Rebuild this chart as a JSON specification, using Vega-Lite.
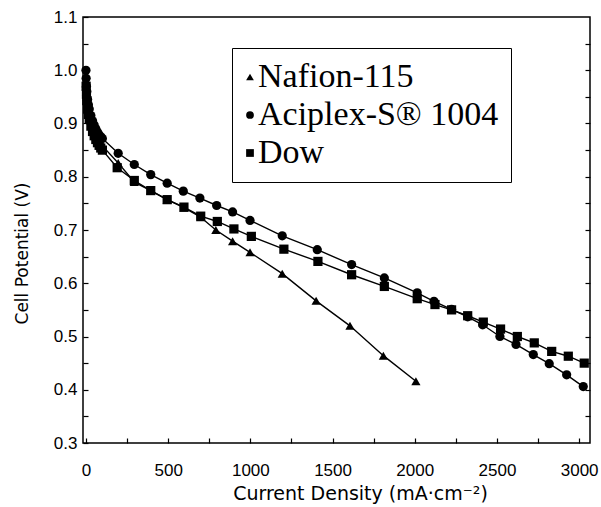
{
  "$schema": "https://vega.github.io/schema/vega-lite/v6.json",
  "autosize": {"type": "none"},
  "padding": {"left": 83, "top": 17, "right": 11, "bottom": 64},
  "width": 507,
  "height": 426,
  "background": "white",
  "config": {
    "view": {"stroke": "black", "strokeWidth": 1.5},
    "axis": {
      "grid": false,
      "domain": false,
      "tickColor": "black",
      "tickSize": -5,
      "tickWidth": 1.2,
      "labelColor": "black",
      "labelFont": "Liberation Sans",
      "labelFontSize": 17,
      "titleFont": "DejaVu Sans",
      "titleFontSize": 17,
      "titleFontWeight": "normal",
      "titleColor": "black"
    }
  },
  "data": {
    "values": [
      {"s": "Aciplex-S® 1004", "x": 0, "v": 1.0},
      {"s": "Aciplex-S® 1004", "x": 1, "v": 0.985},
      {"s": "Aciplex-S® 1004", "x": 3, "v": 0.97},
      {"s": "Aciplex-S® 1004", "x": 5, "v": 0.96},
      {"s": "Aciplex-S® 1004", "x": 10, "v": 0.945},
      {"s": "Aciplex-S® 1004", "x": 15, "v": 0.935},
      {"s": "Aciplex-S® 1004", "x": 20, "v": 0.927},
      {"s": "Aciplex-S® 1004", "x": 30, "v": 0.915},
      {"s": "Aciplex-S® 1004", "x": 40, "v": 0.905},
      {"s": "Aciplex-S® 1004", "x": 50, "v": 0.897},
      {"s": "Aciplex-S® 1004", "x": 60, "v": 0.89},
      {"s": "Aciplex-S® 1004", "x": 70, "v": 0.884},
      {"s": "Aciplex-S® 1004", "x": 80, "v": 0.879},
      {"s": "Aciplex-S® 1004", "x": 90, "v": 0.875},
      {"s": "Aciplex-S® 1004", "x": 100, "v": 0.872},
      {"s": "Aciplex-S® 1004", "x": 196, "v": 0.844},
      {"s": "Aciplex-S® 1004", "x": 294, "v": 0.823},
      {"s": "Aciplex-S® 1004", "x": 394, "v": 0.804},
      {"s": "Aciplex-S® 1004", "x": 494, "v": 0.788},
      {"s": "Aciplex-S® 1004", "x": 592, "v": 0.773},
      {"s": "Aciplex-S® 1004", "x": 693, "v": 0.76},
      {"s": "Aciplex-S® 1004", "x": 795, "v": 0.746},
      {"s": "Aciplex-S® 1004", "x": 892, "v": 0.734},
      {"s": "Aciplex-S® 1004", "x": 998, "v": 0.718},
      {"s": "Aciplex-S® 1004", "x": 1194, "v": 0.689},
      {"s": "Aciplex-S® 1004", "x": 1407, "v": 0.663},
      {"s": "Aciplex-S® 1004", "x": 1616, "v": 0.635},
      {"s": "Aciplex-S® 1004", "x": 1815, "v": 0.61},
      {"s": "Aciplex-S® 1004", "x": 2015, "v": 0.582},
      {"s": "Aciplex-S® 1004", "x": 2117, "v": 0.566},
      {"s": "Aciplex-S® 1004", "x": 2224, "v": 0.551},
      {"s": "Aciplex-S® 1004", "x": 2322, "v": 0.537},
      {"s": "Aciplex-S® 1004", "x": 2413, "v": 0.522},
      {"s": "Aciplex-S® 1004", "x": 2518, "v": 0.5},
      {"s": "Aciplex-S® 1004", "x": 2616, "v": 0.485},
      {"s": "Aciplex-S® 1004", "x": 2721, "v": 0.466},
      {"s": "Aciplex-S® 1004", "x": 2818, "v": 0.449},
      {"s": "Aciplex-S® 1004", "x": 2924, "v": 0.428},
      {"s": "Aciplex-S® 1004", "x": 3025, "v": 0.406},
      {"s": "Nafion-115", "x": 1, "v": 0.975},
      {"s": "Nafion-115", "x": 3, "v": 0.96},
      {"s": "Nafion-115", "x": 5, "v": 0.95},
      {"s": "Nafion-115", "x": 10, "v": 0.935},
      {"s": "Nafion-115", "x": 15, "v": 0.925},
      {"s": "Nafion-115", "x": 20, "v": 0.917},
      {"s": "Nafion-115", "x": 30, "v": 0.905},
      {"s": "Nafion-115", "x": 40, "v": 0.895},
      {"s": "Nafion-115", "x": 50, "v": 0.887},
      {"s": "Nafion-115", "x": 60, "v": 0.88},
      {"s": "Nafion-115", "x": 70, "v": 0.874},
      {"s": "Nafion-115", "x": 80, "v": 0.868},
      {"s": "Nafion-115", "x": 90, "v": 0.863},
      {"s": "Nafion-115", "x": 100, "v": 0.858},
      {"s": "Nafion-115", "x": 196, "v": 0.826},
      {"s": "Nafion-115", "x": 294, "v": 0.79},
      {"s": "Nafion-115", "x": 394, "v": 0.774},
      {"s": "Nafion-115", "x": 494, "v": 0.757},
      {"s": "Nafion-115", "x": 596, "v": 0.742},
      {"s": "Nafion-115", "x": 698, "v": 0.724},
      {"s": "Nafion-115", "x": 790, "v": 0.7},
      {"s": "Nafion-115", "x": 892, "v": 0.679},
      {"s": "Nafion-115", "x": 998, "v": 0.658},
      {"s": "Nafion-115", "x": 1194, "v": 0.618},
      {"s": "Nafion-115", "x": 1400, "v": 0.567},
      {"s": "Nafion-115", "x": 1606, "v": 0.52},
      {"s": "Nafion-115", "x": 1809, "v": 0.464},
      {"s": "Nafion-115", "x": 2007, "v": 0.416},
      {"s": "Dow", "x": 1, "v": 0.97},
      {"s": "Dow", "x": 3, "v": 0.955},
      {"s": "Dow", "x": 5, "v": 0.943},
      {"s": "Dow", "x": 10, "v": 0.927},
      {"s": "Dow", "x": 15, "v": 0.917},
      {"s": "Dow", "x": 20, "v": 0.908},
      {"s": "Dow", "x": 30, "v": 0.895},
      {"s": "Dow", "x": 40, "v": 0.885},
      {"s": "Dow", "x": 50, "v": 0.877},
      {"s": "Dow", "x": 60, "v": 0.87},
      {"s": "Dow", "x": 70, "v": 0.864},
      {"s": "Dow", "x": 80, "v": 0.859},
      {"s": "Dow", "x": 90, "v": 0.854},
      {"s": "Dow", "x": 100, "v": 0.85},
      {"s": "Dow", "x": 190, "v": 0.817},
      {"s": "Dow", "x": 294, "v": 0.793},
      {"s": "Dow", "x": 394, "v": 0.774},
      {"s": "Dow", "x": 494, "v": 0.757},
      {"s": "Dow", "x": 596, "v": 0.743},
      {"s": "Dow", "x": 698, "v": 0.726},
      {"s": "Dow", "x": 799, "v": 0.716},
      {"s": "Dow", "x": 900, "v": 0.702},
      {"s": "Dow", "x": 1006, "v": 0.688},
      {"s": "Dow", "x": 1204, "v": 0.664},
      {"s": "Dow", "x": 1411, "v": 0.641},
      {"s": "Dow", "x": 1616, "v": 0.616},
      {"s": "Dow", "x": 1815, "v": 0.594},
      {"s": "Dow", "x": 2015, "v": 0.571},
      {"s": "Dow", "x": 2123, "v": 0.56},
      {"s": "Dow", "x": 2224, "v": 0.55},
      {"s": "Dow", "x": 2322, "v": 0.539},
      {"s": "Dow", "x": 2417, "v": 0.527},
      {"s": "Dow", "x": 2522, "v": 0.514},
      {"s": "Dow", "x": 2624, "v": 0.5},
      {"s": "Dow", "x": 2727, "v": 0.488},
      {"s": "Dow", "x": 2833, "v": 0.472},
      {"s": "Dow", "x": 2934, "v": 0.463},
      {"s": "Dow", "x": 3031, "v": 0.45}
    ]
  },
  "resolve": {"axis": {"y": "independent"}},
  "layer": [
    {
      "mark": {"type": "line", "color": "black", "strokeWidth": 1.4},
      "encoding": {
        "x": {"field": "x", "type": "quantitative", "scale": {"domain": [-18, 3066], "nice": false, "zero": false},
          "axis": {"title": "Current  Density (mA·cm⁻²)", "values": [0, 250, 500, 750, 1000, 1250, 1500, 1750, 2000, 2250, 2500, 2750, 3000],
            "labelExpr": "datum.value % 500 == 0 ? datum.label : ''", "format": "d", "labelPadding": 24, "titlePadding": 6,
            "titleFontSize": 19, "titleX": 277}},
        "y": {"field": "v", "type": "quantitative", "scale": {"domain": [0.3, 1.1], "nice": false, "zero": false},
          "axis": {"orient": "right", "labels": false, "title": null, "values": [0.35, 0.4, 0.45, 0.5, 0.55, 0.6, 0.65, 0.7, 0.75, 0.8, 0.85, 0.9, 0.95, 1.0, 1.05]}},
        "detail": {"field": "s"}
      }
    },
    {
      "mark": {"type": "point", "filled": true, "color": "black", "opacity": 1, "size": 85},
      "encoding": {
        "x": {"field": "x", "type": "quantitative"},
        "y": {"field": "v", "type": "quantitative",
          "axis": {"title": "Cell Potential (V)", "values": [0.3, 0.35, 0.4, 0.45, 0.5, 0.55, 0.6, 0.65, 0.7, 0.75, 0.8, 0.85, 0.9, 0.95, 1.0, 1.05, 1.1],
            "labelExpr": "round(datum.value*100) % 10 == 0 ? format(datum.value, '.1f') : ''", "labelPadding": 11, "titlePadding": 22, "titleFontSize": 17, "titleY": 236}},
        "shape": {"field": "s", "type": "nominal",
          "scale": {"domain": ["Nafion-115", "Aciplex-S® 1004", "Dow"], "range": ["triangle-up", "circle", "square"]},
          "legend": {"orient": "none", "legendX": 149, "legendY": 31, "title": null,
            "strokeColor": "black", "padding": 12, "rowPadding": 4,
            "labelFont": "Liberation Serif", "labelFontSize": 34, "labelColor": "black", "labelLimit": 500,
            "labelExpr": "datum.label == 'Aciplex-S® 1004' ? datum.label + '\u00a0\u00a0\u00a0\u00a0\u00a0\u00a0\u00a0\u00a0\u00a0\u00a0\u00a0\u00a0\u00a0\u00a0\u00a0\u00a0\u00a0\u00a0' : datum.label",
            "symbolSize": 60, "symbolFillColor": "black", "symbolStrokeWidth": 0, "symbolOffset": -11, "labelOffset": -9}}
      }
    }
  ]
}
